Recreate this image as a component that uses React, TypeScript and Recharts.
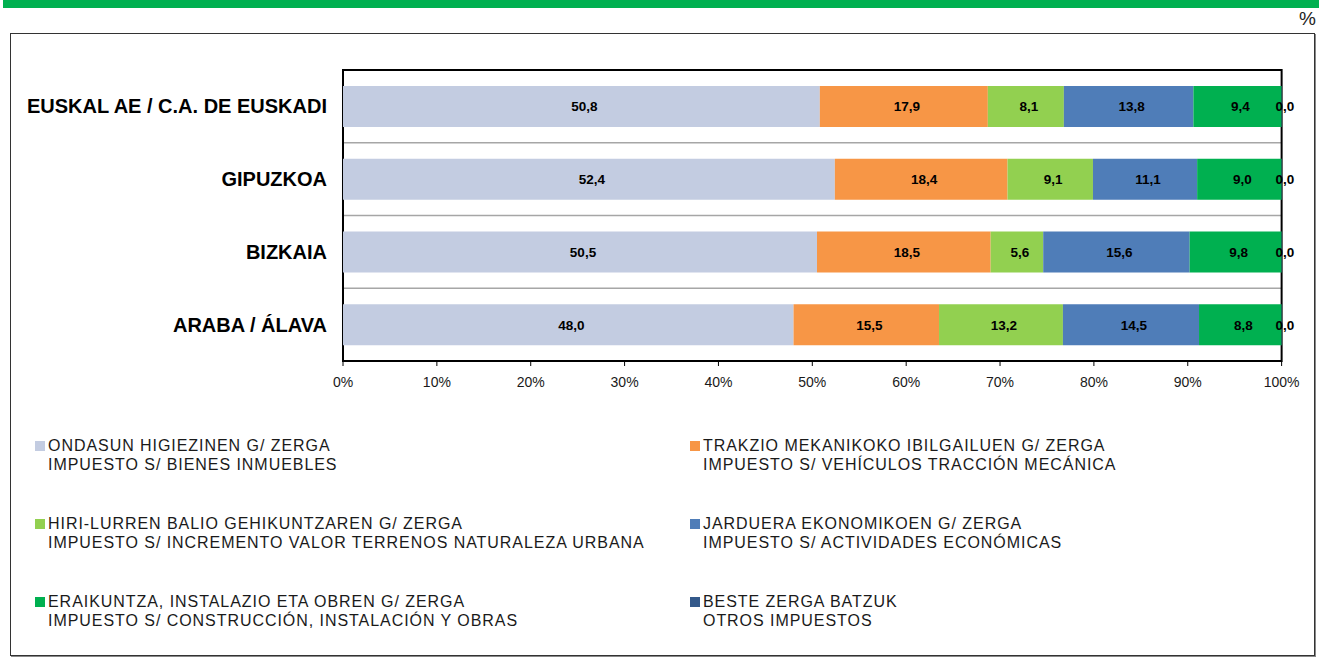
import React from "react";
import {
  Bar,
  BarChart,
  CartesianGrid,
  LabelList,
  Legend,
  ReferenceArea,
  XAxis,
  YAxis,
} from "recharts";

const categories = [
  "EUSKAL AE / C.A. DE EUSKADI",
  "GIPUZKOA",
  "BIZKAIA",
  "ARABA / ÁLAVA",
];

const ondasun = [50.8, 52.4, 50.5, 48.0];
const trakzio = [17.9, 18.4, 18.5, 15.5];
const hiriLurren = [8.1, 9.1, 5.6, 13.2];
const jarduera = [13.8, 11.1, 15.6, 14.5];
const eraikuntza = [9.4, 9.0, 9.8, 8.8];
const besteak = [0.04, 0.04, 0.04, 0.04];

const seriesKeys = ["ondasun", "trakzio", "hiriLurren", "jarduera", "eraikuntza", "besteak"];
const seriesValues = [ondasun, trakzio, hiriLurren, jarduera, eraikuntza, besteak];
const seriesColors = ["#C3CCE1", "#F79646", "#92D050", "#4F7DB8", "#00B050", "#34598A"];

const namesEu = [
  "ONDASUN HIGIEZINEN G/ ZERGA",
  "TRAKZIO MEKANIKOKO IBILGAILUEN G/ ZERGA",
  "HIRI-LURREN BALIO GEHIKUNTZAREN G/ ZERGA",
  "JARDUERA EKONOMIKOEN G/ ZERGA",
  "ERAIKUNTZA, INSTALAZIO ETA OBREN G/ ZERGA",
  "BESTE ZERGA BATZUK",
];
const namesEs = [
  "IMPUESTO S/ BIENES INMUEBLES",
  "IMPUESTO S/ VEHÍCULOS TRACCIÓN MECÁNICA",
  "IMPUESTO S/ INCREMENTO VALOR TERRENOS NATURALEZA URBANA",
  "IMPUESTO S/ ACTIVIDADES ECONÓMICAS",
  "IMPUESTO S/ CONSTRUCCIÓN, INSTALACIÓN Y OBRAS",
  "OTROS IMPUESTOS",
];

const xTicks = [0, 10, 20, 30, 40, 50, 60, 70, 80, 90, 100];

const data = categories.map((name, i) => {
  const row: Record<string, string | number> = { name };
  seriesKeys.forEach((k, s) => (row[k] = seriesValues[s][i]));
  return row;
});

const FONT = "'Liberation Sans', Arial, sans-serif";

const renderLegend = () => (
  <div
    style={{
      display: "grid",
      gridTemplateColumns: "655px 600px",
      gridAutoRows: "78px",
      paddingLeft: 35,
      fontFamily: FONT,
    }}
  >
    {seriesKeys.map((k, i) => (
      <div key={k} style={{ display: "flex", alignItems: "flex-start" }}>
        <span
          style={{
            width: 10,
            height: 10,
            marginTop: 5,
            marginRight: 3,
            background: seriesColors[i],
            flex: "none",
          }}
        />
        <div
          style={{
            fontSize: 16,
            lineHeight: "19px",
            letterSpacing: 0.95,
            color: "#1a1a1a",
            whiteSpace: "nowrap",
          }}
        >
          <div>{namesEu[i]}</div>
          <div>{namesEs[i]}</div>
        </div>
      </div>
    ))}
  </div>
);

export default function App() {
  return (
    <div
      style={{
        position: "absolute",
        left: 0,
        top: 0,
        width: 1319,
        height: 664,
        background: "#fff",
        fontFamily: FONT,
      }}
    >
      <div style={{ position: "absolute", left: 3, top: 0, width: 1316, height: 8, background: "#00B050" }} />
      <div style={{ position: "absolute", right: 3, top: 8, fontSize: 19, color: "#222" }}>%</div>
      <div
        style={{
          position: "absolute",
          left: 10,
          top: 33,
          width: 1303,
          height: 621,
          border: "1.5px solid #333",
          boxShadow: "1px 1px 0 #888",
        }}
      />
      <div style={{ position: "absolute", left: 0, top: 0 }}>
        <BarChart
          width={1319}
          height={664}
          data={data}
          layout="vertical"
          margin={{ top: 70, right: 37, bottom: 273, left: 0 }}
        >
          <CartesianGrid
            vertical={false}
            stroke="#A6A6A6"
            strokeWidth={1.5}
            horizontalCoordinatesGenerator={({ offset }: any) =>
              [1, 2, 3].map((i) => offset.top + (offset.height * i) / categories.length)
            }
          />
          <XAxis
            type="number"
            domain={[0, 100]}
            ticks={xTicks}
            tickFormatter={(v) => `${v}%`}
            height={30}
            axisLine={{ stroke: "#000", strokeWidth: 2 }}
            tickLine={{ stroke: "#000" }}
            tickSize={5}
            tickMargin={11}
            tick={{ fontSize: 14, fill: "#1a1a1a", fontFamily: FONT }}
          />
          <YAxis
            type="category"
            dataKey="name"
            width={343}
            axisLine={false}
            tickLine={false}
            tickMargin={10}
            tick={{ fontSize: 20, fontWeight: "bold", fill: "#000", fontFamily: FONT }}
          />
          {seriesKeys.map((k, i) => (
            <Bar key={k} dataKey={k} stackId="a" fill={seriesColors[i]} barSize={41} isAnimationActive={false}>
              <LabelList
                dataKey={k}
                position="center"
                dx={3}
                formatter={(v: any) => Number(v).toFixed(1).replace(".", ",")}
                style={{ fontSize: 13.5, fontWeight: "bold", fill: "#000", fontFamily: FONT }}
              />
            </Bar>
          ))}
          <ReferenceArea x1={0} x2={100} fill="none" stroke="#000" strokeWidth={2} />
          <Legend
            layout="horizontal"
            verticalAlign="middle"
            align="center"
            wrapperStyle={{ left: 0, top: 436, width: 1319 }}
            content={renderLegend}
          />
        </BarChart>
      </div>
    </div>
  );
}
